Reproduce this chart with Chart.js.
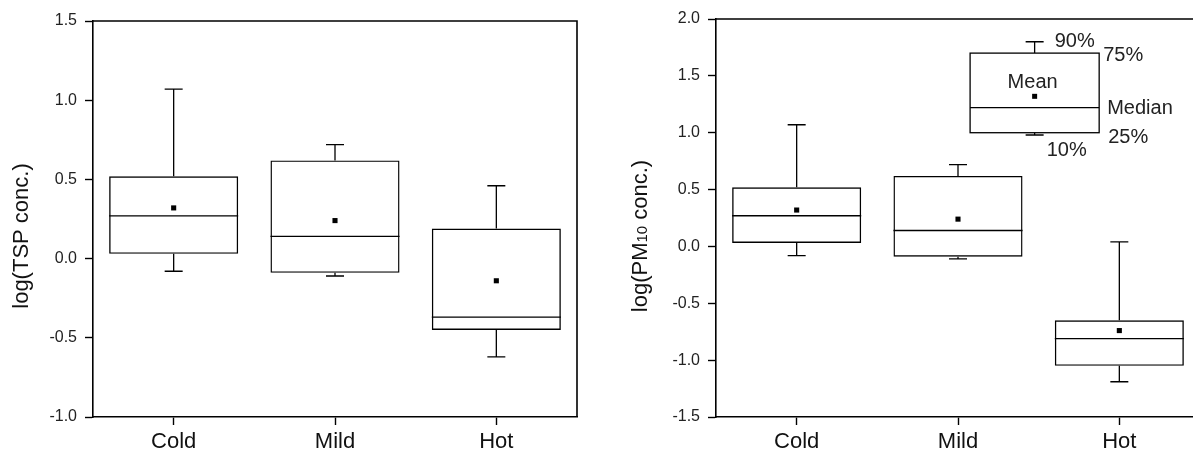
<!DOCTYPE html>
<html lang="en">
<head>
<meta charset="UTF-8">
<title>TSP and PM10 by season</title>
<script src="https://cdn.jsdelivr.net/npm/chart.js"></script>
<style>
  html, body { margin: 0; padding: 0; background: #fff; overflow: hidden; }
  body { width: 1193px; height: 455px; position: relative; }
  #tspChart { position: absolute; left: 0; top: 0; }
  #pmChart { position: absolute; left: 600px; top: 0; }
</style>
</head>
<body>
<canvas id="tspChart" width="600" height="455"></canvas>
<canvas id="pmChart" width="620" height="455"></canvas>
<script>
const seasons = ['Cold', 'Mild', 'Hot'];

// log(TSP) box statistics per season
const tspP10 = [-0.08, -0.11, -0.62];
const tspQ1 = [0.03, -0.09, -0.45];
const tspMedian = [0.27, 0.14, -0.37];
const tspMean = [0.32, 0.24, -0.14];
const tspQ3 = [0.52, 0.62, 0.19];
const tspP90 = [1.07, 0.72, 0.46];
const tspTicks = [-1.0, -0.5, 0.0, 0.5, 1.0, 1.5];

// log(PM10) box statistics per season
const pmP10 = [-0.08, -0.11, -1.19];
const pmQ1 = [0.03, -0.09, -1.05];
const pmMedian = [0.27, 0.14, -0.81];
const pmMean = [0.32, 0.24, -0.74];
const pmQ3 = [0.52, 0.62, -0.65];
const pmP90 = [1.07, 0.72, 0.04];
const pmTicks = [-1.5, -1.0, -0.5, 0.0, 0.5, 1.0, 1.5, 2.0];

// explanation box drawn inside the PM10 panel (between Mild and Hot)
const keySlot = 1.475;
const keyStats = [0.98, 1.00, 1.22, 1.32, 1.70, 1.80]; // 10%, 25%, median, mean, 75%, 90%
const keyLabels = ['10%', '25%', 'Median', 'Mean', '75%', '90%'];

const ink = '#000';
const fontFamily = '"Liberation Sans", Arial, sans-serif';

function drawWhiskerBox(ctx, xs, ys, pos, p10, q1, med, q3, p90, outline) {
  const slot = xs.getPixelForValue(1) - xs.getPixelForValue(0);
  const half = slot * 0.4;
  const cap = 9;
  const cx = xs.getPixelForValue(pos);
  const yLo = ys.getPixelForValue(p10), yQ1 = ys.getPixelForValue(q1);
  const yMed = ys.getPixelForValue(med);
  const yQ3 = ys.getPixelForValue(q3), yHi = ys.getPixelForValue(p90);
  ctx.beginPath();
  ctx.moveTo(cx, yQ1); ctx.lineTo(cx, yLo);
  ctx.moveTo(cx - cap, yLo); ctx.lineTo(cx + cap, yLo);
  ctx.moveTo(cx, yQ3); ctx.lineTo(cx, yHi);
  ctx.moveTo(cx - cap, yHi); ctx.lineTo(cx + cap, yHi);
  ctx.moveTo(cx - half, yMed); ctx.lineTo(cx + half, yMed);
  ctx.stroke();
  if (outline) {
    ctx.strokeRect(cx - half, yQ3, half * 2, yQ1 - yQ3);
  }
  return { cx, half, yLo, yQ1, yMed, yQ3, yHi };
}

function drawKey(ctx, xs, ys) {
  const [k10, k25, kMed, kMean, k75, k90] = keyStats;
  const b = drawWhiskerBox(ctx, xs, ys, keySlot, k10, k25, kMed, k75, k90, true);
  const yMean = ys.getPixelForValue(kMean);
  ctx.fillStyle = '#000';
  ctx.fillRect(b.cx - 2.5, yMean - 2.5, 5, 5);

  ctx.fillStyle = '#222';
  ctx.font = '20px ' + fontFamily;
  ctx.textBaseline = 'alphabetic';
  ctx.textAlign = 'left';
  ctx.fillText(keyLabels[5], b.cx + 20, b.yHi + 5);
  ctx.fillText(keyLabels[4], b.cx + b.half + 4, b.yQ3 + 8);
  ctx.fillText(keyLabels[2], b.cx + b.half + 8, b.yMed + 6);
  ctx.fillText(keyLabels[1], b.cx + b.half + 9, b.yQ1 + 10);
  ctx.fillText(keyLabels[0], b.cx + 12, b.yLo + 21);
  ctx.textAlign = 'center';
  ctx.fillText(keyLabels[3], b.cx - 2, yMean - 8);
}

// rotated y-axis title; parts let the "10" of PM10 be set as a subscript
function drawYTitle(ctx, parts, cx, cy) {
  ctx.save();
  ctx.translate(cx, cy);
  ctx.rotate(-Math.PI / 2);
  ctx.fillStyle = '#111';
  ctx.textBaseline = 'middle';
  ctx.textAlign = 'left';
  let width = 0;
  parts.forEach(p => {
    ctx.font = p.size + 'px ' + fontFamily;
    width += ctx.measureText(p.text).width;
  });
  let x = -width / 2;
  parts.forEach(p => {
    ctx.font = p.size + 'px ' + fontFamily;
    ctx.fillText(p.text, x, p.shift);
    x += ctx.measureText(p.text).width;
  });
  ctx.restore();
}

function makeChart(id, cfg) {
  const boxes = seasons.map((_, i) => [cfg.q1[i], cfg.q3[i]]);

  const boxExtras = {
    id: 'boxExtras',
    afterDatasetsDraw(chart) {
      const { ctx } = chart;
      const xs = chart.scales.x, ys = chart.scales.y;
      ctx.save();
      ctx.strokeStyle = ink;
      ctx.lineWidth = 1.3;
      cfg.p10.forEach((v, i) => {
        drawWhiskerBox(ctx, xs, ys, i, v, cfg.q1[i], cfg.median[i], cfg.q3[i], cfg.p90[i], false);
      });
      if (cfg.key) drawKey(ctx, xs, ys);
      ctx.restore();
    },
    afterDraw(chart) {
      const { ctx, chartArea: a } = chart;
      ctx.save();
      ctx.strokeStyle = ink;
      ctx.lineWidth = 1.6;
      ctx.beginPath();
      ctx.moveTo(a.left, a.top);
      ctx.lineTo(a.right, a.top);
      ctx.lineTo(a.right, a.bottom);
      ctx.stroke();
      ctx.restore();
      drawYTitle(ctx, cfg.title, cfg.titleX, cfg.titleY);
    }
  };

  return new Chart(document.getElementById(id), {
    type: 'bar',
    data: {
      labels: seasons,
      datasets: [
        {
          data: boxes,
          backgroundColor: 'rgba(255,255,255,0)',
          borderColor: ink,
          borderWidth: 1.4,
          borderSkipped: false,
          barPercentage: 0.8,
          categoryPercentage: 1.0
        },
        {
          type: 'line',
          data: cfg.mean,
          showLine: false,
          pointStyle: 'rect',
          pointRadius: 3.6,
          pointBorderWidth: 0,
          pointBackgroundColor: '#000'
        }
      ]
    },
    options: {
      responsive: false,
      animation: false,
      events: [],
      layout: { padding: cfg.padding },
      plugins: {
        legend: { display: false },
        tooltip: { enabled: false }
      },
      scales: {
        x: {
          offset: true,
          grid: {
            offset: false, drawOnChartArea: false, drawTicks: true,
            tickLength: 8, tickColor: ink, tickWidth: 1.4
          },
          border: { display: true, color: ink, width: 1.6 },
          ticks: { color: '#111', padding: 4, font: { family: fontFamily, size: 22 } },
          afterFit: s => { s.height = 38; }
        },
        y: {
          min: cfg.ticks[0],
          max: cfg.ticks[cfg.ticks.length - 1],
          afterBuildTicks: s => { s.ticks = cfg.ticks.map(v => ({ value: v })); },
          grid: {
            drawOnChartArea: false, drawTicks: true,
            tickLength: 8, tickColor: ink, tickWidth: 1.4
          },
          border: { display: true, color: ink, width: 1.6 },
          ticks: {
            color: '#222', padding: 8,
            font: { family: fontFamily, size: 16 },
            callback: v => Number(v).toFixed(1)
          },
          afterFit: s => { s.width = cfg.axisWidth; }
        }
      }
    },
    plugins: [boxExtras]
  });
}

makeChart('tspChart', {
  p10: tspP10, q1: tspQ1, median: tspMedian, mean: tspMean, q3: tspQ3, p90: tspP90,
  ticks: tspTicks, key: false,
  padding: { left: 0, right: 23, top: 21, bottom: 0 },
  axisWidth: 93,
  title: [{ text: 'log(TSP conc.)', size: 22, shift: 0 }],
  titleX: 22, titleY: 236
});

makeChart('pmChart', {
  p10: pmP10, q1: pmQ1, median: pmMedian, mean: pmMean, q3: pmQ3, p90: pmP90,
  ticks: pmTicks, key: true,
  padding: { left: 0, right: 20, top: 19, bottom: 0 },
  axisWidth: 116,
  title: [
    { text: 'log(PM', size: 22, shift: 0 },
    { text: '10', size: 15, shift: 2 },
    { text: ' conc.)', size: 22, shift: 0 }
  ],
  titleX: 41, titleY: 236
});
</script>
</body>
</html>
